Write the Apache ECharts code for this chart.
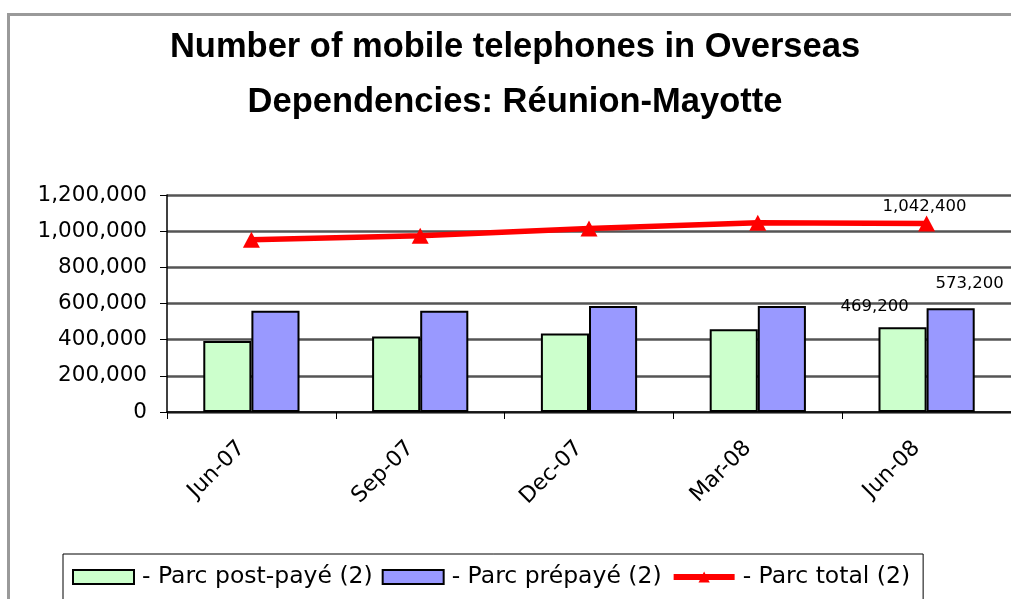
<!DOCTYPE html>
<html>
<head>
<meta charset="utf-8">
<script src="https://cdn.jsdelivr.net/npm/echarts@6/dist/echarts.min.js"></script>
<style>
    html, body { margin: 0; padding: 0; background: #fff; }
    #chart { width: 1011px; height: 599px; }
</style>
</head>
<body>
<div id="chart"></div>
<script>
    // 数据
    const categories = ["Jun-07", "Sep-07", "Dec-07", "Mar-08", "Jun-08"]
    const postPaid = [393000, 418000, 434000, 458000, 469200]
    const prePaid = [560000, 560000, 586000, 586000, 573200]
    const total = [953000, 975000, 1015000, 1046000, 1042400]
    const yTicks = [0, 200000, 400000, 600000, 800000, 1000000, 1200000]

    const fmt = v => v.toLocaleString("en-US")
    const font = "'DejaVu Sans', 'Liberation Sans', Arial, sans-serif"
    const titleFont = "'Liberation Sans', Arial, sans-serif"

    // 只给最后一个点加标签
    const lastLabel = (arr, label) =>
        arr.map((v, i) => (i === arr.length - 1 ? { value: v, label } : v))

    const valueLabel = (distance, dx) => ({
        show: true,
        position: "top",
        distance,
        offset: [dx, 0],
        fontSize: 16.5,
        fontFamily: font,
        color: "#000",
        formatter: p => fmt(p.value),
    })

    const myChart = echarts.init(document.getElementById("chart"), null, { renderer: "canvas" })
    const option = {
        animation: false,
        textStyle: { fontFamily: font, color: "#000" },
        title: {
            text: "Number of mobile telephones in Overseas\nDependencies: Réunion-Mayotte",
            left: 510,
            textAlign: "center",
            top: 15,
            textStyle: { fontFamily: titleFont, fontSize: 34.5, fontWeight: "bold", lineHeight: 55, color: "#000" },
        },
        graphic: [
            {
                type: "rect",
                shape: { x: 8.5, y: 14.5, width: 1010, height: 600 },
                style: { fill: "none", stroke: "#9a9a9a", lineWidth: 3 },
            },
        ],
        legend: {
            left: 63,
            top: 554,
            padding: [11, 13, 20, 9],
            itemGap: 9,
            itemWidth: 61,
            itemHeight: 14,
            borderColor: "#000",
            borderWidth: 1,
            textStyle: { fontFamily: font, fontSize: 23.5, color: "#000", padding: [0, 0, 0, 3] },
            data: [
                { name: "- Parc post-payé (2)", icon: "rect" },
                { name: "- Parc prépayé (2)", icon: "rect" },
                { name: "- Parc total (2)", lineStyle: { width: 6 } },
            ],
        },
        grid: { left: 167, right: -3, top: 195, bottom: 187 },
        xAxis: {
            type: "category",
            data: categories,
            axisLine: { lineStyle: { color: "#000", width: 1.5 } },
            axisTick: { show: true, length: 7, alignWithLabel: false, lineStyle: { color: "#000" } },
            axisLabel: {
                rotate: 45,
                fontSize: 22,
                margin: 23,
                color: "#000",
                fontFamily: font,
                // 末尾空格让标签沿斜向左下挪一点
                formatter: v => v + "  ",
            },
        },
        yAxis: {
            type: "value",
            min: yTicks[0],
            max: yTicks[yTicks.length - 1],
            interval: 200000,
            axisLine: { show: true, lineStyle: { color: "#000", width: 1.5 } },
            axisTick: { show: true, length: 7, lineStyle: { color: "#000" } },
            axisLabel: { fontSize: 21.5, margin: 20, color: "#000", fontFamily: font, formatter: fmt },
            splitLine: { lineStyle: { color: "#555", width: 2.5 } },
        },
        series: [
            {
                name: "- Parc post-payé (2)",
                type: "bar",
                barGap: "0%",
                barCategoryGap: "43%",
                itemStyle: { color: "#CCFFCC", borderColor: "#000", borderWidth: 2 },
                data: lastLabel(postPaid, valueLabel(12, -28)),
            },
            {
                name: "- Parc prépayé (2)",
                type: "bar",
                itemStyle: { color: "#9999FF", borderColor: "#000", borderWidth: 2 },
                data: lastLabel(prePaid, valueLabel(16, 19)),
            },
            {
                name: "- Parc total (2)",
                type: "line",
                symbol: "triangle",
                symbolSize: [17, 16],
                lineStyle: { color: "#FF0000", width: 5.5 },
                itemStyle: { color: "#FF0000" },
                data: lastLabel(total, valueLabel(0, -2)),
            },
        ],
    }
    myChart.setOption(option)
</script>
</body>
</html>
